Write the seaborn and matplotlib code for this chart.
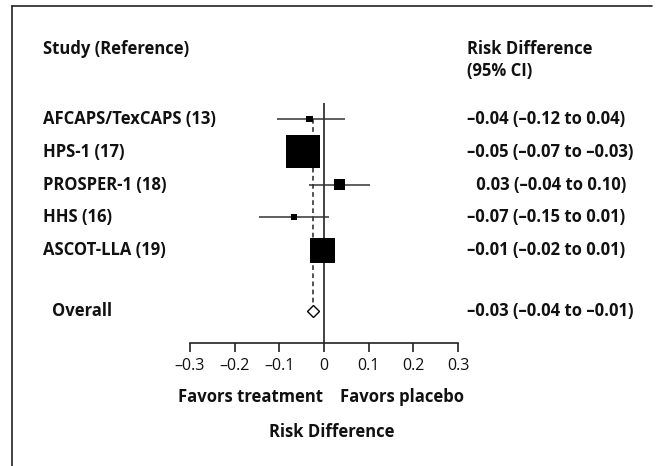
import numpy as np
import pandas as pd
import matplotlib
matplotlib.use("Agg")
import matplotlib.pyplot as plt
import matplotlib.transforms as mtransforms
from matplotlib.lines import Line2D
import seaborn as sns

# data
studies = ["AFCAPS/TexCAPS (13)", "HPS-1 (17)", "PROSPER-1 (18)", "HHS (16)", "ASCOT-LLA (19)"]
estimate = [-0.032, -0.047, 0.035, -0.067, -0.004]
ci_low = [-0.105, -0.07, -0.034, -0.145, -0.02]
ci_high = [0.048, -0.03, 0.103, 0.012, 0.01]
weight = [2.2, 56.9, 6.3, 1.9, 32.7]
ci_text = ["–0.04 (–0.12 to 0.04)", "–0.05 (–0.07 to –0.03)", "\u20070.03 (–0.04 to 0.10)",
           "–0.07 (–0.15 to 0.01)", "–0.01 (–0.02 to 0.01)"]
overall_est = -0.025
overall_text = "–0.03 (–0.04 to –0.01)"
ticks = [-0.3, -0.2, -0.1, 0, 0.1, 0.2, 0.3]
tick_labels = ["–0.3", "–0.2", "–0.1", "0", "0.1", "0.2", "0.3"]

df = pd.DataFrame({"study": studies, "est": estimate, "lo": ci_low, "hi": ci_high,
                   "weight": weight, "row": np.arange(len(studies))})
overall_row = 5.86

sns.set_theme(style="white")
plt.rcParams["font.family"] = ["Open Sans", "DejaVu Sans"]

W, H = 658, 466
fig = plt.figure(figsize=(W / 100, H / 100), dpi=100)
# axes placed in pixel terms: x -0.3..0.3 spans 190..458, top 103, bottom 343
ax = fig.add_axes([190 / W, 1 - 343 / H, (458 - 190) / W, (343 - 103) / H])

# confidence intervals
ax.hlines(df["row"], df["lo"], df["hi"], color="#333333", linewidth=1.1, zorder=2)
# dashed overall line
ax.vlines(overall_est, 0, overall_row, color="#444444", linewidth=1.3,
          linestyles=(0, (2.6, 1.9)), zorder=1)
# zero line
ax.axvline(0, color="#222222", linewidth=1.2, zorder=1)

sns.scatterplot(data=df, x="est", y="row", size="weight", sizes=(19, 566),
                size_norm=(1.9, 56.9), marker="s", color="black", linewidth=0,
                legend=False, ax=ax, zorder=3)
ax.plot([overall_est], [overall_row], marker="D", markersize=6, markerfacecolor="white",
        markeredgecolor="black", markeredgewidth=1.0, linestyle="none", zorder=4)

ax.set_xlim(-0.3, 0.3)
ax.set_ylim(6.83, -0.49)
ax.set_xticks(ticks)
ax.set_xticklabels(tick_labels, fontsize=11.5)
ax.set_yticks([])
ax.set_xlabel("")
ax.set_ylabel("")
for side in ["top", "left", "right"]:
    ax.spines[side].set_visible(False)
ax.spines["bottom"].set_color("#222222")
ax.spines["bottom"].set_linewidth(1.2)
ax.tick_params(axis="x", direction="out", length=6.5, width=1.2, color="#222222",
               bottom=True, pad=4, labelcolor="#111111")
ax.patch.set_alpha(0)

# text columns
tr = mtransforms.blended_transform_factory(fig.transFigure, ax.transData)
fs = 12
for i, name in enumerate(studies):
    fig.text(43 / W, i, name, transform=tr, ha="left", va="center", fontsize=fs,
             fontweight="bold", color="#111111")
    fig.text(467 / W, i, ci_text[i], transform=tr, ha="left", va="center", fontsize=fs,
             fontweight="bold", color="#111111")
fig.text(52 / W, overall_row, "Overall", transform=tr, ha="left", va="center",
         fontsize=fs, fontweight="bold", color="#111111")
fig.text(467 / W, overall_row, overall_text, transform=tr, ha="left", va="center",
         fontsize=fs, fontweight="bold", color="#111111")

fig.text(43 / W, 1 - 49 / H, "Study (Reference)", ha="left", va="center", fontsize=fs,
         fontweight="bold", color="#111111")
fig.text(467 / W, 1 - 49 / H, "Risk Difference", ha="left", va="center", fontsize=fs,
         fontweight="bold", color="#111111")
fig.text(467 / W, 1 - 71 / H, "(95% CI)", ha="left", va="center", fontsize=fs,
         fontweight="bold", color="#111111")

fig.text(250 / W, 1 - 397 / H, "Favors treatment", ha="center", va="center", fontsize=fs,
         fontweight="bold", color="#111111")
fig.text(402 / W, 1 - 397 / H, "Favors placebo", ha="center", va="center", fontsize=fs,
         fontweight="bold", color="#111111")
fig.text(332 / W, 1 - 432 / H, "Risk Difference", ha="center", va="center", fontsize=fs,
         fontweight="bold", color="#111111")

# frame lines (top and left)
fig.add_artist(Line2D([12 / W, 652 / W], [1 - 6 / H, 1 - 6 / H], transform=fig.transFigure,
                      color="#222222", linewidth=1.2))
fig.add_artist(Line2D([12 / W, 12 / W], [1 - 6 / H, 0], transform=fig.transFigure,
                      color="#222222", linewidth=1.2))

fig.savefig("out.png", dpi=100)
